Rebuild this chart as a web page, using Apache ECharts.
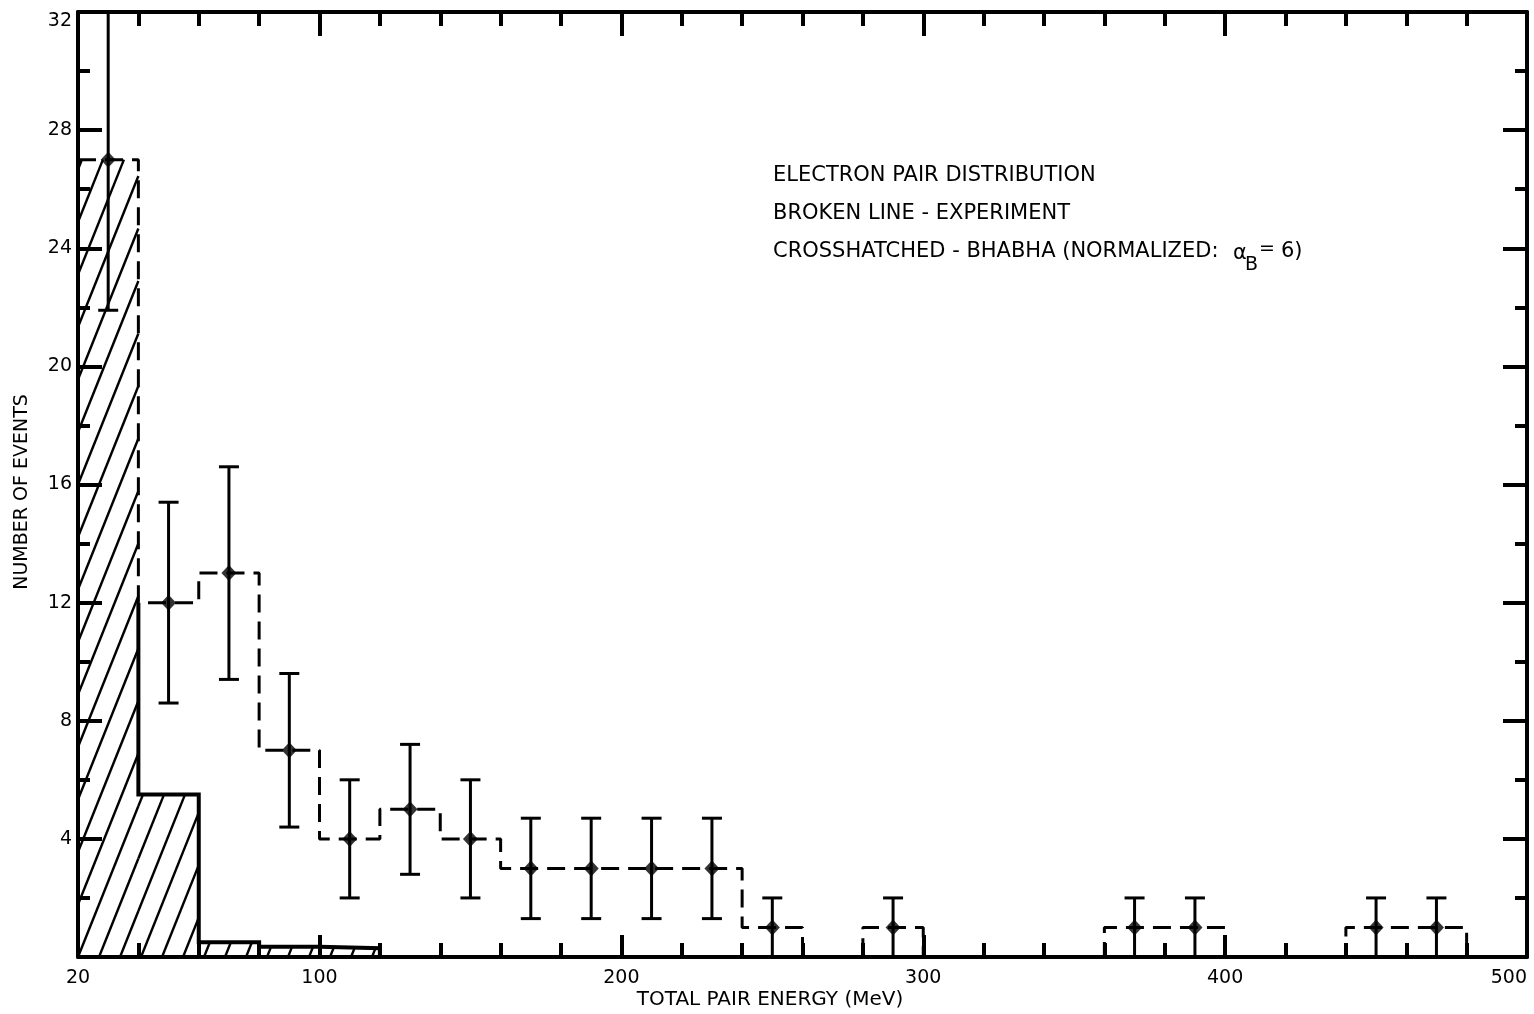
<!DOCTYPE html>
<html>
<head>
<meta charset="utf-8">
<script src="https://cdn.jsdelivr.net/npm/echarts@6/dist/echarts.min.js"></script>
<style>
  html, body { margin: 0; padding: 0; background: #ffffff; }
  #chart { width: 1534px; height: 1014px; }
</style>
</head>
<body>
<div id="chart"></div>
<script>
// Energy bins (MeV, lower edges), 20 MeV wide
const binLow = [20, 40, 60, 80, 100, 120, 140, 160, 180, 200, 220, 240,
                260, 280, 300, 320, 340, 360, 380, 400, 420, 440, 460, 480];
const binWidth = 20;

// Measured electron pairs per bin
const experimentCounts = [27, 12, 13, 7, 4, 5, 4, 3, 3, 3, 3, 1,
                          0, 1, 0, 0, 0, 1, 1, 0, 0, 1, 1, 0];
// Error bar ends per bin (null where the bin is empty)
const experimentErrLow = [21.9, 8.6, 9.4, 4.4, 2.0, 2.8, 2.0, 1.3, 1.3, 1.3, 1.3, 0,
                          null, 0, null, null, null, 0, 0, null, null, 0, 0, null];
const experimentErrHigh = [32.0, 15.4, 16.6, 9.6, 6.0, 7.2, 6.0, 4.7, 4.7, 4.7, 4.7, 2.0,
                           null, 2.0, null, null, null, 2.0, 2.0, null, null, 2.0, 2.0, null];

// Bhabha prediction, normalized
const bhabhaLow = [20, 40, 60, 80, 100];
const bhabhaCounts = [27, 5.5, 0.5, 0.35, 0.3];

// Axis ticks and labels
const xLabelValues = [20, 100, 200, 300, 400, 500];
const xMajorTicks = [100, 200, 300, 400];
const xMinorTicks = [40, 60, 80, 120, 140, 160, 180, 220, 240, 260, 280, 320, 340,
                     360, 380, 420, 440, 460, 480];
const yLabelValues = [4, 8, 12, 16, 20, 24, 28, 32];
const yMajorTicks = [4, 8, 12, 16, 20, 24, 28];
const yMinorTicks = [2, 6, 10, 14, 18, 22, 26, 30];

const INK = '#000000';
const FONT = '"DejaVu Sans", "Liberation Sans", sans-serif';
const HATCH_STEP = 21;   // px between hatch lines along the baseline
const HATCH_SLOPE = 2.5; // rise over run of the hatch lines

// Step outline of the measured histogram
const experimentStep = [];
binLow.forEach((lo, i) => {
  experimentStep.push([lo, experimentCounts[i]], [lo + binWidth, experimentCounts[i]]);
});
experimentStep.push([binLow[binLow.length - 1] + binWidth, 0]);

// Points and error bars for non-empty bins
const experimentPoints = [];
const experimentErrors = [];
binLow.forEach((lo, i) => {
  if (experimentCounts[i] > 0) {
    experimentPoints.push([lo + binWidth / 2, experimentCounts[i]]);
    experimentErrors.push([lo + binWidth / 2, experimentErrLow[i], experimentErrHigh[i]]);
  }
});

// Bhabha bins as [low, high, count]
const bhabhaBins = bhabhaLow.map((lo, i) => [lo, lo + binWidth, bhabhaCounts[i]]);

// Solid outline of the Bhabha histogram; its first edge above the
// next measured bin is carried by the dashed step
const bhabhaOutline = [[bhabhaLow[1], experimentCounts[1]]];
for (let i = 1; i < bhabhaLow.length; i++) {
  bhabhaOutline.push([bhabhaLow[i], bhabhaCounts[i]], [bhabhaLow[i] + binWidth, bhabhaCounts[i]]);
}
bhabhaOutline.push([bhabhaLow[bhabhaLow.length - 1] + binWidth, 0]);

function xAxisDef(position, ticks, tickLen, showLine, labels) {
  return {
    type: 'value', position, min: 20, max: 500,
    axisLine: { show: showLine, onZero: false, lineStyle: { color: INK, width: 4 } },
    axisTick: { show: true, inside: true, length: tickLen, customValues: ticks,
                lineStyle: { color: INK, width: 4 } },
    axisLabel: labels ? {
      show: true, customValues: labels, color: INK, fontFamily: FONT, fontSize: 19,
      margin: 12, alignMaxLabel: 'right'
    } : { show: false },
    splitLine: { show: false }
  };
}
function yAxisDef(position, ticks, tickLen, showLine, labels) {
  return {
    type: 'value', position, min: 0, max: 32,
    axisLine: { show: showLine, onZero: false, lineStyle: { color: INK, width: 4 } },
    axisTick: { show: true, inside: true, length: tickLen, customValues: ticks,
                lineStyle: { color: INK, width: 4 } },
    axisLabel: labels ? {
      show: true, customValues: labels, color: INK, fontFamily: FONT, fontSize: 19, margin: 6,
      verticalAlignMaxLabel: 'top'
    } : { show: false },
    splitLine: { show: false }
  };
}

const chart = echarts.init(document.getElementById('chart'), null, { renderer: 'canvas' });

const TXT = '21px ' + FONT;
const option = {
  animation: false,
  backgroundColor: '#ffffff',
  grid: { left: 78, right: 7, top: 12, bottom: 57, containLabel: false },
  xAxis: [
    xAxisDef('bottom', xMajorTicks, 22, true, xLabelValues),
    xAxisDef('bottom', xMinorTicks, 14, false, null),
    xAxisDef('top', xMajorTicks, 24, true, null),
    xAxisDef('top', xMinorTicks, 14, false, null)
  ],
  yAxis: [
    yAxisDef('left', yMajorTicks, 24, true, yLabelValues),
    yAxisDef('left', yMinorTicks, 12, false, null),
    yAxisDef('right', yMajorTicks, 24, true, null),
    yAxisDef('right', yMinorTicks, 12, false, null)
  ],
  graphic: [
    { type: 'text', x: 773, y: 176, style: { text: 'ELECTRON PAIR DISTRIBUTION', font: TXT, fill: INK, verticalAlign: 'middle' } },
    { type: 'text', x: 773, y: 214, style: { text: 'BROKEN LINE - EXPERIMENT', font: TXT, fill: INK, verticalAlign: 'middle' } },
    { type: 'text', x: 773, y: 252, style: { text: 'CROSSHATCHED - BHABHA (NORMALIZED:', font: TXT, fill: INK, verticalAlign: 'middle' } },
    { type: 'text', x: 1233, y: 254, style: { text: 'α', font: '21px ' + FONT, fill: INK, verticalAlign: 'middle' } },
    { type: 'text', x: 1245, y: 265, style: { text: 'B', font: '19px ' + FONT, fill: INK, verticalAlign: 'middle' } },
    { type: 'text', x: 1259, y: 249, style: { text: '=', font: '19px ' + FONT, fill: INK, verticalAlign: 'middle' } },
    { type: 'text', x: 1281, y: 252, style: { text: '6)', font: TXT, fill: INK, verticalAlign: 'middle' } },
    { type: 'text', x: 770, y: 1000, style: { text: 'TOTAL PAIR ENERGY (MeV)', font: '20px ' + FONT, fill: INK, align: 'center', verticalAlign: 'middle' } },
    { type: 'text', x: 22, y: 492, rotation: Math.PI / 2, style: { text: 'NUMBER OF EVENTS', font: '19px ' + FONT, fill: INK, align: 'center', verticalAlign: 'middle' } }
  ],
  series: [
    {
      // cross-hatched Bhabha bins
      type: 'custom', name: 'Bhabha', xAxisIndex: 0, yAxisIndex: 0, z: 1,
      data: bhabhaBins,
      renderItem(params, api) {
        const lo = api.value(0), hi = api.value(1), v = api.value(2);
        const a = api.coord([lo, v]);
        const b = api.coord([hi, 0]);
        const x0 = a[0], y0 = a[1], x1 = b[0], y1 = b[1];
        const run = (y1 - y0) / HATCH_SLOPE;
        const origin = api.coord([binLow[0], 0])[0];
        const children = [];
        for (let k = Math.floor((x0 - run - origin) / HATCH_STEP); origin + k * HATCH_STEP < x1; k++) {
          const c = origin + k * HATCH_STEP;
          const xs = Math.max(x0, c), xe = Math.min(x1, c + run);
          if (xe <= xs) continue;
          children.push({
            type: 'line',
            shape: { x1: xs, y1: y1 - (xs - c) * HATCH_SLOPE, x2: xe, y2: y1 - (xe - c) * HATCH_SLOPE },
            style: { stroke: INK, lineWidth: 2.4 }
          });
        }
        return { type: 'group', children };
      }
    },
    {
      type: 'line', name: 'Bhabha outline', xAxisIndex: 0, yAxisIndex: 0, z: 2,
      data: bhabhaOutline, showSymbol: false, symbol: 'none',
      lineStyle: { color: INK, width: 4, join: 'miter' }
    },
    {
      type: 'line', name: 'Experiment', xAxisIndex: 0, yAxisIndex: 0, z: 3,
      data: experimentStep, showSymbol: false, symbol: 'none',
      lineStyle: { color: INK, width: 3, type: [18, 9] }
    },
    {
      type: 'custom', name: 'Errors', xAxisIndex: 0, yAxisIndex: 0, z: 4,
      data: experimentErrors,
      renderItem(params, api) {
        const x = api.value(0), lo = api.value(1), hi = api.value(2);
        const pLo = api.coord([x, lo]);
        const pHi = api.coord([x, hi]);
        const half = 10;
        const st = { stroke: INK, lineWidth: 3 };
        const children = [
          { type: 'line', shape: { x1: pLo[0], y1: pLo[1], x2: pHi[0], y2: pHi[1] }, style: st },
          { type: 'line', shape: { x1: pHi[0] - half, y1: pHi[1], x2: pHi[0] + half, y2: pHi[1] }, style: st }
        ];
        if (lo > 0) {
          children.push({ type: 'line', shape: { x1: pLo[0] - half, y1: pLo[1], x2: pLo[0] + half, y2: pLo[1] }, style: st });
        }
        return { type: 'group', children };
      }
    },
    {
      type: 'scatter', name: 'Points', xAxisIndex: 0, yAxisIndex: 0, z: 5,
      data: experimentPoints, symbol: 'diamond', symbolSize: [15, 16],
      itemStyle: { color: INK }
    }
  ]
};

chart.setOption(option);
</script>
</body>
</html>
